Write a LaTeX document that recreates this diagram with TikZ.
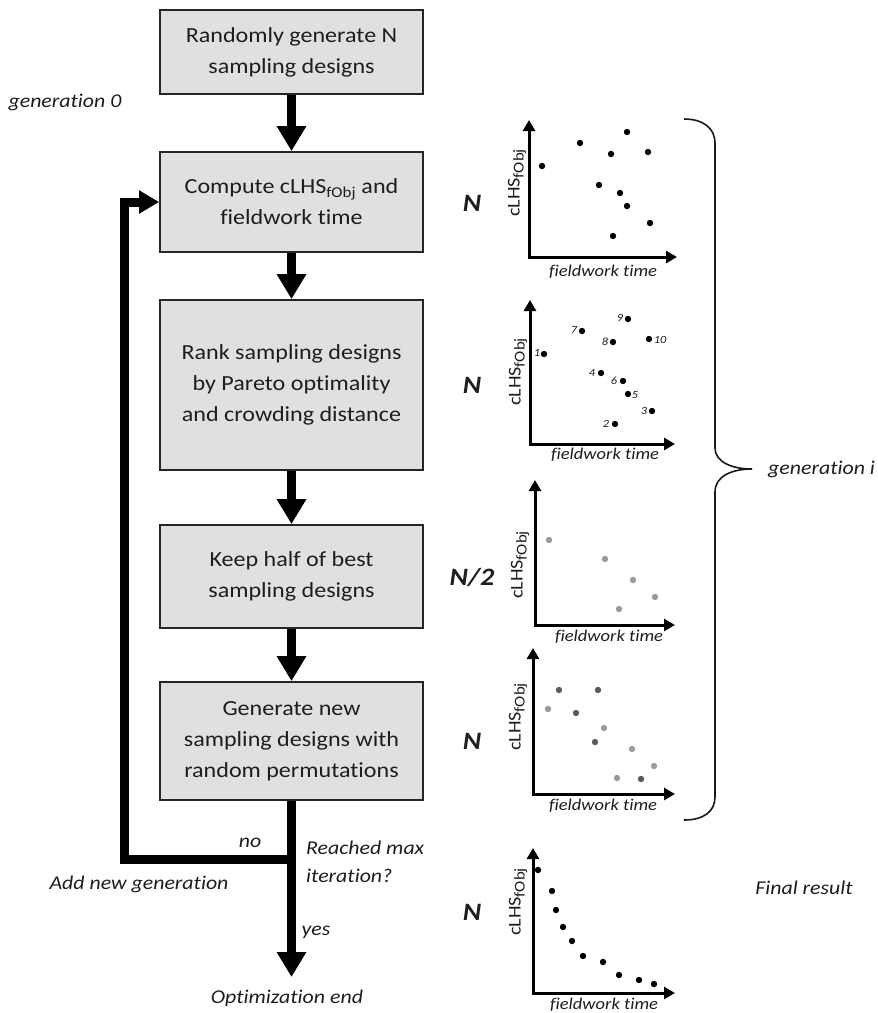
\documentclass[tikz,border=0pt]{standalone}
\usepackage{fontspec}
\setmainfont{Carlito}[FakeStretch=1.12, Ligatures={NoCommon}]
\usetikzlibrary{arrows.meta}
\definecolor{boxgray}{HTML}{E0E0E0}
\definecolor{txt}{HTML}{1E1E1E}
\definecolor{ptlight}{HTML}{9A9A9A}
\definecolor{ptdark}{HTML}{5A5A5A}
\newcommand{\clhs}{cLHS\raisebox{-4pt}{\fontsize{15}{15}\selectfont fObj}}
\begin{document}
\begin{tikzpicture}[x=1pt,y=-1pt,
  box/.style={draw=black!85, line width=1.8pt, fill=boxgray, minimum width=263pt,
    align=center, font=\fontsize{21.5}{31}\selectfont, text=txt, inner sep=0pt},
  flow/.style={line width=9pt, -{Triangle[width=28pt,length=25pt]}},
  loopflow/.style={line width=9pt, line join=miter, -{Triangle[width=22pt,length=20pt]}},
  lab/.style={font=\fontsize{19.5}{28}\selectfont\itshape, text=txt, inner sep=0pt},
  nlab/.style={font=\fontsize{25}{25}\selectfont\bfseries\itshape, text=txt, inner sep=0pt},
  axis/.style={line width=3pt, line join=miter, {Triangle[width=12pt,length=11pt]}-{Triangle[width=12pt,length=11pt]}},
  xlab/.style={font=\fontsize{16.5}{16.5}\selectfont\itshape, text=txt, inner sep=0pt},
  ylab/.style={font=\fontsize{18}{18}\selectfont, text=txt, inner sep=0pt, rotate=90},
  plab/.style={font=\fontsize{11}{11}\selectfont\itshape, text=txt, inner sep=0pt},
  brace/.style={line width=1.6pt, draw=black!90}
]
\useasboundingbox (0,0) rectangle (878,1013);
\fill[white] (0,0) rectangle (878,1013);

% ---- flow boxes
\node[box, minimum height=84pt]  (b1) at (291.5,52)  {Randomly generate N\\sampling designs};
\node[box, minimum height=100pt] (b2) at (291.5,202) {Compute cLHS\textsubscript{fObj} and\\fieldwork time};
\node[box, minimum height=170pt] (b3) at (291.5,385) {Rank sampling designs\\by Pareto optimality\\and crowding distance};
\node[box, minimum height=103pt] (b4) at (291.5,576.5) {Keep half of best\\sampling designs};
\node[box, minimum height=118pt] (b5) at (291.5,741) {Generate new\\sampling designs with\\random permutations};

\coordinate (endpt) at (291.5,977);
\coordinate (br) at (291.5,859);
\coordinate (lc) at (124,859);

\draw[flow] (b1) -- (b2);
\draw[flow] (b2) -- (b3);
\draw[flow] (b3) -- (b4);
\draw[flow] (b4) -- (b5);
\draw[flow] (b5) -- (endpt);
\draw[loopflow] (br) -- (lc) |- (b2.west);

% ---- labels
\node[lab] (g0) at (65,102) {generation 0};
\node[lab] (no) at (250,843) {no};
\node[lab, anchor=west, align=left] (reach) at (306,862) {Reached max\\iteration?};
\node[lab] (addgen) at (139,884) {Add new generation};
\node[lab] (yes) at (316,932) {yes};
\node[lab] (optend) at (287,998) {Optimization end};
\node[lab, anchor=west] (geni) at (768,469) {generation i};
\node[lab] (final) at (804,888) {Final result};

\node[nlab] (n1) at (472,203) {N};
\node[nlab] (n2) at (472,385) {N};
\node[nlab] (n3) at (472,577) {N/2};
\node[nlab] (n4) at (472,741) {N};
\node[nlab] (n5) at (472,912) {N};

% ---- brace
\draw[brace] (684,119) .. controls (703,119) and (715,128) .. (715,143)
  -- (715,448) .. controls (715,462) and (732,469) .. (752,469)
  .. controls (732,469) and (715,476) .. (715,492)
  -- (715,797) .. controls (715,812) and (703,820) .. (684,820);

% ---- plot 1
\draw[axis] (529,120) -- (529,257) -- (677,257);
\node[xlab] (x1) at (603,272) {fieldwork time};
\node[ylab] (y1) at (517,183) {\clhs};
\foreach \p in {(542,166),(580,143),(627,132),(611,154),(648,152),(599,185),(620,193),(627,206),(650,223),(613,236)}
  \fill \p circle (3.2);

% ---- plot 2
\draw[axis] (530,300) -- (530,444) -- (675,444);
\node[xlab] (x2) at (605,455) {fieldwork time};
\node[ylab] (y2) at (518,372) {\clhs};
\foreach \p in {(544,354),(582,331),(628,319),(613,342),(649,339),(601,373),(623,381),(628,394),(652,411),(615,424)}
  \fill \p circle (3.2);
\node[plab] (l1) at (537,353) {1};
\node[plab] (l7) at (574,330) {7};
\node[plab] (l9) at (620,318) {9};
\node[plab] (l8) at (605,342) {8};
\node[plab] (l10) at (660,340) {10};
\node[plab] (l4) at (592,373) {4};
\node[plab] (l6) at (614,381) {6};
\node[plab] (l5) at (635,395) {5};
\node[plab] (l3) at (644,411) {3};
\node[plab] (l2) at (606,424) {2};

% ---- plot 3
\draw[axis] (535,480) -- (535,625) -- (675,625);
\node[xlab] (x3) at (609,637) {fieldwork time};
\node[ylab] (y3) at (520,565) {\clhs};
\foreach \p in {(549,540),(605,559),(633,580),(655,597),(619,609)}
  \fill[ptlight] \p circle (3.2);

% ---- plot 4
\draw[axis] (533,648) -- (533,794) -- (675,794);
\node[xlab] (x4) at (603,806) {fieldwork time};
\node[ylab] (y4) at (518,717) {\clhs};
\foreach \p in {(548,709),(604,728),(632,749),(654,766),(617,778)}
  \fill[ptlight] \p circle (3.2);
\foreach \p in {(559,690),(598,690),(576,713),(595,742),(641,779)}
  \fill[ptdark] \p circle (3.2);

% ---- plot 5
\draw[axis] (533,848) -- (533,993) -- (675,993);
\node[xlab] (x5) at (604,1005) {fieldwork time};
\node[ylab] (y5) at (518,902) {\clhs};
\foreach \p in {(538,870),(552,891),(556,910),(563,927),(572,941),(583,956),(603,962),(619,975),(639,980),(654,984)}
  \fill \p circle (3.2);
\end{tikzpicture}
\end{document}
